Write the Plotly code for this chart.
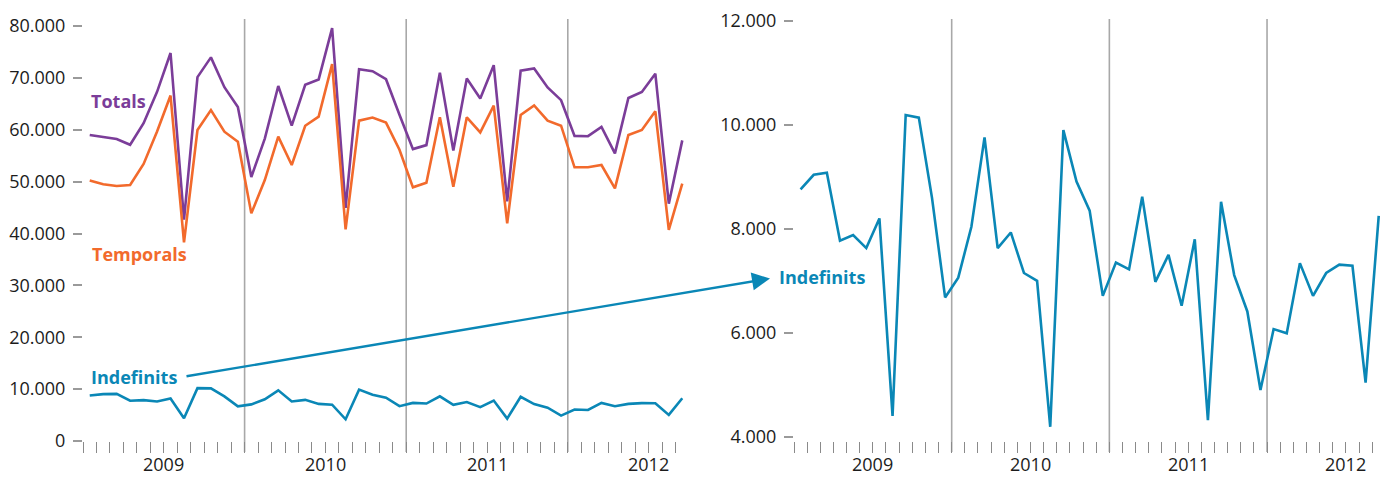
import plotly.graph_objects as go

# ---------------- data (Jan 2009 .. Sep 2012, monthly) ----------------
month_index = list(range(45))
years = ["2009", "2010", "2011", "2012"]
year_mid = [6, 18, 30, 42]
year_start = [12, 24, 36]

totals = [59000, 58600, 58200, 57100, 61250, 67300, 74800, 42650, 70150, 73950,
          68200, 64400, 50900, 58300, 68430, 60800, 68680, 69700, 79600, 44950,
          71650, 71280, 69750, 62900, 56270, 57040, 71010, 55980, 69880, 66030,
          72450, 46200, 71400, 71820, 68160, 65700, 58820, 58760, 60540, 55440,
          66120, 67280, 70800, 45750, 57950]
temporals = [50200, 49500, 49150, 49350, 53400, 59650, 66600, 38300, 59950, 63800,
             59620, 57700, 43880, 50300, 58670, 53200, 60780, 62530, 72650, 40800,
             61750, 62350, 61380, 56150, 48900, 49800, 62400, 49030, 62400, 59500,
             64640, 41960, 62850, 64700, 61750, 60780, 52760, 52760, 53200, 48710,
             58990, 59950, 63550, 40700, 49600]
indefinits = [8760, 9040, 9080, 7770, 7880, 7630, 8200, 4400, 10190, 10140,
              8600, 6680, 7060, 8040, 9760, 7630, 7930, 7150, 7000, 4190,
              9900, 8910, 8350, 6710, 7350, 7220, 8620, 6980, 7500, 6520,
              7800, 4320, 8520, 7110, 6410, 4900, 6070, 5990, 7340, 6710,
              7150, 7310, 7290, 5040, 8250]

left_ticks = [0, 10000, 20000, 30000, 40000, 50000, 60000, 70000, 80000]
right_ticks = [4000, 6000, 8000, 10000, 12000]

# ---------------- styling ----------------
W, H = 1381, 477
PURPLE = "#7b3d99"
ORANGE = "#f26a2c"
BLUE = "#0a87b6"
GRAY = "#9a9a9a"
TXT = "#1c1c1c"
FONT = "Open Sans"

xc = [m + 0.5 for m in month_index]


def px(p):
    return p / W


def py(p):
    return 1 - p / H


fig = go.Figure()
line_w = 2.6
fig.add_trace(go.Scatter(x=xc, y=totals, mode="lines", line=dict(color=PURPLE, width=line_w),
                         xaxis="x", yaxis="y", showlegend=False, hoverinfo="skip"))
fig.add_trace(go.Scatter(x=xc, y=temporals, mode="lines", line=dict(color=ORANGE, width=line_w),
                         xaxis="x", yaxis="y", showlegend=False, hoverinfo="skip"))
fig.add_trace(go.Scatter(x=xc, y=indefinits, mode="lines", line=dict(color=BLUE, width=line_w),
                         xaxis="x", yaxis="y", showlegend=False, hoverinfo="skip"))
fig.add_trace(go.Scatter(x=xc, y=indefinits, mode="lines", line=dict(color=BLUE, width=line_w),
                         xaxis="x2", yaxis="y2", showlegend=False, hoverinfo="skip"))

xcommon = dict(tickmode="array", tickvals=month_index, showticklabels=False,
               ticks="outside", ticklen=11, tickwidth=1.2, tickcolor="#8a8a8a",
               showgrid=False, zeroline=False, showline=False, fixedrange=True,
               automargin=False)
ycommon = dict(tickmode="array", ticks="outside", ticklen=9, tickwidth=1.5,
               tickcolor=GRAY, showgrid=False, zeroline=False, showline=False,
               tickformat=",d", tickfont=dict(family=FONT, size=18, color=TXT),
               ticklabelstandoff=4, automargin=False, fixedrange=True)

fig.update_layout(
    template="none",
    width=W, height=H, autosize=False,
    margin=dict(l=0, r=0, t=0, b=0, pad=0),
    paper_bgcolor="white", plot_bgcolor="white",
    separators=",.",
    showlegend=False,
    font=dict(family=FONT, size=18, color=TXT),
    xaxis=dict(domain=[px(83), px(689)], range=[0, 45], anchor="y", **xcommon),
    yaxis=dict(domain=[py(441), py(19)], range=[0, 81350], anchor="x",
               tickvals=left_ticks, **ycommon),
    xaxis2=dict(domain=[px(794), 1.0], range=[0, (1381 - 794) / 13.14], anchor="y2", **xcommon),
    yaxis2=dict(domain=[py(441), py(19)], range=[3917, 12038], anchor="x2",
                tickvals=right_ticks, **ycommon),
)

shapes = []
for xr in ["x", "x2"]:
    for ys in year_start:
        shapes.append(dict(type="line", xref=xr, yref="paper", x0=ys, x1=ys,
                           y0=py(452), y1=py(19), line=dict(color="#a8a8a8", width=1.6),
                           layer="below"))
fig.update_layout(shapes=shapes)

ann = []
for xr in ["x", "x2"]:
    for yl, ym in zip(years, year_mid):
        ann.append(dict(xref=xr, yref="paper", x=ym, y=0, text=yl, showarrow=False,
                        xanchor="center", yanchor="bottom", borderpad=0,
                        font=dict(family=FONT, size=18, color=TXT)))

ann.append(dict(xref="paper", yref="paper", x=px(89), y=py(101), text="<b>Totals</b>",
                showarrow=False, xanchor="left", yanchor="middle",
                font=dict(family=FONT, size=18, color=PURPLE)))
ann.append(dict(xref="paper", yref="paper", x=px(90), y=py(254), text="<b>Temporals</b>",
                showarrow=False, xanchor="left", yanchor="middle",
                font=dict(family=FONT, size=18, color=ORANGE)))
ann.append(dict(xref="paper", yref="paper", x=px(89), y=py(377), text="<b>Indefinits</b>",
                showarrow=False, xanchor="left", yanchor="middle",
                font=dict(family=FONT, size=18, color=BLUE)))
ann.append(dict(xref="paper", yref="paper", x=px(777), y=py(277), text="<b>Indefinits</b>",
                showarrow=False, xanchor="left", yanchor="middle",
                font=dict(family=FONT, size=18, color=BLUE)))
# arrow linking the two Indefinits labels
ann.append(dict(xref="paper", yref="paper", x=px(770), y=py(278.5), text="",
                showarrow=True, axref="pixel", ayref="pixel", ax=185 - 770, ay=376.5 - 278.5,
                arrowhead=2, arrowsize=1.5, arrowwidth=2.4, arrowcolor=BLUE, standoff=0))
fig.update_layout(annotations=ann)

fig.write_html("out.html",
               config={"displayModeBar": False, "responsive": False, "staticPlot": False},
               post_script="document.body.style.margin='0';document.body.style.overflow='hidden';")
